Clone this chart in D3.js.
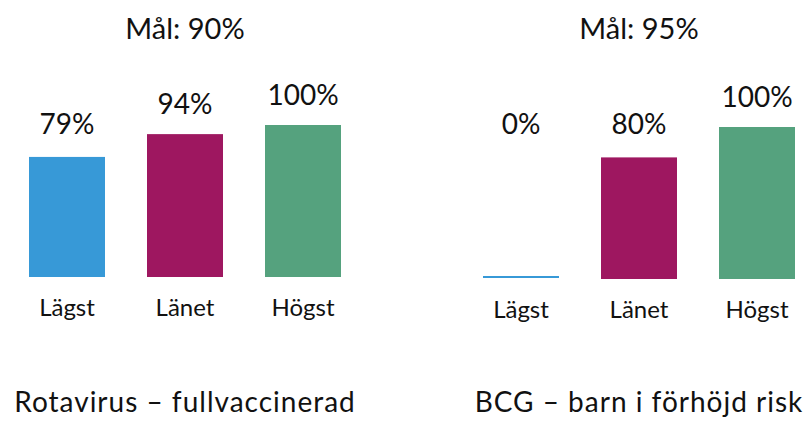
<!DOCTYPE html>
<html>
<head>
<meta charset="utf-8">
<script src="https://cdn.jsdelivr.net/npm/d3@7"></script>
<style>
  html, body { margin: 0; padding: 0; background: #fff; }
  svg { display: block; }
  text { font-family: "Lato", "Noto Sans", sans-serif; fill: #111; }
</style>
</head>
<body>
<svg id="chart" width="805" height="421"></svg>
<script>
// ---- data ----
const categories = ["Lägst", "Länet", "Högst"];
const rotavirusValues = [79, 94, 100];
const bcgValues = [0, 80, 100];
const panelTitles = ["Rotavirus – fullvaccinerad", "BCG – barn i förhöjd risk"];
const goalLabels = ["Mål: 90%", "Mål: 95%"];
const colors = ["#3799d7", "#9e1760", "#55a27e"];

// ---- layout ----
const svg = d3.select("#chart");
const panels = [
  { values: rotavirusValues, title: panelTitles[0], goal: goalLabels[0], x0: 29, base: 277 },
  { values: bcgValues, title: panelTitles[1], goal: goalLabels[1], x0: 483, base: 279 }
];
const barH = 152;

panels.forEach(p => {
  const x = d3.scaleBand().domain(categories).range([p.x0, p.x0 + 312]).paddingInner(0.356).paddingOuter(0);
  const y = d3.scaleLinear().domain([0, 100]).range([p.base, p.base - barH]);
  const cx = p.x0 + 156;
  const g = svg.append("g");
  const data = categories.map((c, i) => ({ c, v: p.values[i], col: colors[i] }));

  g.selectAll("rect").data(data).enter().append("rect")
    .attr("x", d => x(d.c))
    .attr("width", x.bandwidth())
    .attr("y", d => Math.min(y(d.v), p.base - 2) - (d.v === 0 ? 1 : 0))
    .attr("height", d => Math.max(p.base - y(d.v), 2))
    .attr("fill", d => d.col);

  g.selectAll("text.val").data(data).enter().append("text")
    .attr("class", "val")
    .attr("x", d => x(d.c) + x.bandwidth() / 2)
    .attr("y", d => Math.min(y(d.v) - 20, 134))
    .attr("text-anchor", "middle")
    .style("font-size", "28px")
    .text(d => d.v + "%");

  // category axis labels
  const axis = d3.axisBottom(x).tickSize(0).tickPadding(0);
  const ag = g.append("g").attr("transform", `translate(0,${p.base + 39})`).call(axis);
  ag.select(".domain").remove();
  ag.selectAll("text")
    .attr("dy", 0).attr("y", 0)
    .style("font-size", "24px")
    .style("font-family", "Lato, 'Noto Sans', sans-serif")
    .attr("fill", "#111");

  g.append("text").attr("x", cx).attr("y", 39).attr("text-anchor", "middle")
    .style("font-size", "29px").text(p.goal);

  g.append("text").attr("x", cx).attr("y", 412).attr("text-anchor", "middle")
    .style("font-size", "28px").style("letter-spacing", "1px").text(p.title);
});
</script>
</body>
</html>
